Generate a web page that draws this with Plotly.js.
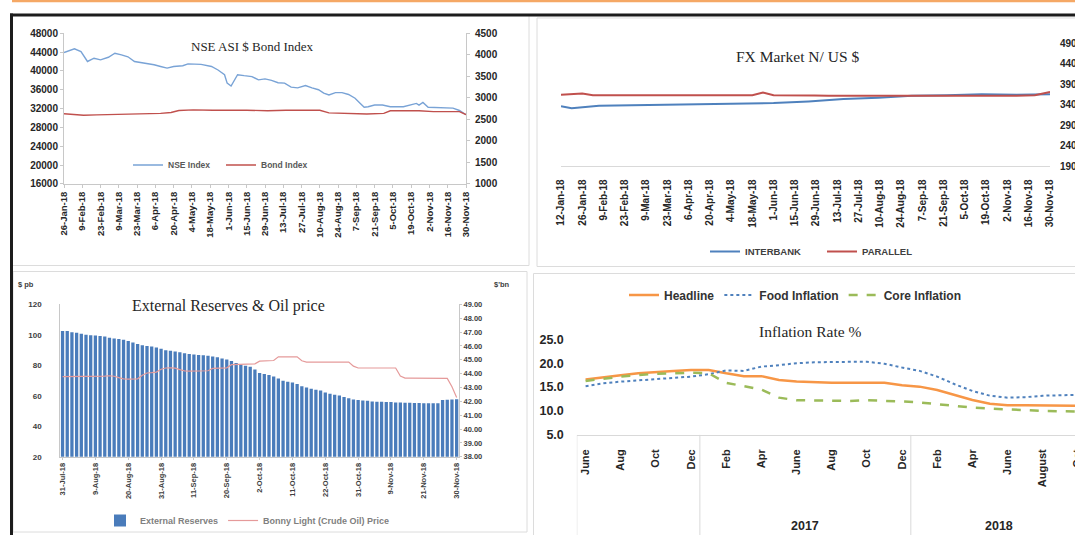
<!DOCTYPE html>
<html><head><meta charset="utf-8">
<script src="https://cdn.plot.ly/plotly-3.0.1.min.js"></script>
<style>html,body{margin:0;padding:0;overflow:hidden;background:#fff;width:1075px;height:535px}#chart{width:1130px;height:535px}</style>
</head><body><div id="chart"></div>
<script>
// ---------- Chart 1: NSE ASI & Bond Index ----------
const nseTickLabels = ['26-Jan-18','9-Feb-18','23-Feb-18','9-Mar-18','23-Mar-18','6-Apr-18','20-Apr-18','4-May-18','18-May-18','1-Jun-18','15-Jun-18','29-Jun-18','13-Jul-18','27-Jul-18','10-Aug-18','24-Aug-18','7-Sep-18','21-Sep-18','5-Oct-18','19-Oct-18','2-Nov-18','16-Nov-18','30-Nov-18'];
const nseDates = ['2018-01-26','2018-02-03','2018-02-08','2018-02-13','2018-02-18','2018-02-23','2018-03-01','2018-03-06','2018-03-11','2018-03-16','2018-03-21','2018-03-29','2018-04-05','2018-04-10','2018-04-15','2018-04-20','2018-04-27','2018-05-01','2018-05-11','2018-05-19','2018-05-24','2018-05-29','2018-05-31','2018-06-03','2018-06-05','2018-06-08','2018-06-13','2018-06-19','2018-06-24','2018-06-29','2018-07-04','2018-07-09','2018-07-14','2018-07-19','2018-07-24','2018-07-30','2018-08-04','2018-08-09','2018-08-13','2018-08-17','2018-08-22','2018-08-27','2018-09-01','2018-09-06','2018-09-10','2018-09-13','2018-09-16','2018-09-21','2018-09-27','2018-10-03','2018-10-13','2018-10-18','2018-10-23','2018-10-25','2018-10-28','2018-11-01','2018-11-07','2018-11-15','2018-11-20','2018-11-25','2018-11-30'];
const nseIndex = [43900,44700,44100,42000,42700,42350,42900,43760,43400,43000,42000,41650,41300,40950,40600,40950,41100,41500,41400,40950,40200,39200,37400,36800,37800,39200,39000,38800,38100,38300,38000,37500,37400,36550,36400,36900,36400,36000,35300,34900,35400,35400,35000,34200,33100,32300,32400,32750,32750,32400,32400,32750,33100,32750,33300,32300,32250,32100,32100,31600,30700];
const bondDates = ['2018-01-26','2018-02-10','2018-02-20','2018-03-15','2018-04-10','2018-04-18','2018-04-24','2018-05-05','2018-05-20','2018-06-15','2018-07-01','2018-07-15','2018-08-10','2018-08-17','2018-09-01','2018-09-15','2018-09-28','2018-10-03','2018-10-25','2018-11-05','2018-11-25','2018-11-30'];
const bondIndex = [2630,2595,2605,2615,2640,2660,2705,2720,2710,2712,2700,2710,2712,2650,2630,2625,2640,2700,2700,2680,2680,2610];

// ---------- Chart 2: FX Market ----------
const fxTickLabels = ['12-Jan-18','26-Jan-18','9-Feb-18','23-Feb-18','9-Mar-18','23-Mar-18','6-Apr-18','20-Apr-18','4-May-18','18-May-18','1-Jun-18','15-Jun-18','29-Jun-18','13-Jul-18','27-Jul-18','10-Aug-18','24-Aug-18','7-Sep-18','21-Sep-18','5-Oct-18','19-Oct-18','2-Nov-18','16-Nov-18','30-Nov-18'];
const interbankDates = ['2018-01-12','2018-01-19','2018-02-06','2018-03-08','2018-04-16','2018-05-09','2018-06-01','2018-06-24','2018-07-17','2018-08-09','2018-08-31','2018-09-23','2018-10-16','2018-11-08','2018-11-30'];
const interbankRate = [336.4,331.6,338.0,339.6,341.2,342.0,344.4,348.4,354.0,357.2,362.0,363.6,366.0,364.4,366.0];
const parallelDates = ['2018-01-12','2018-01-26','2018-02-02','2018-05-18','2018-05-25','2018-06-01','2018-06-28','2018-07-07','2018-11-08','2018-11-20','2018-11-30'];
const parallelRate = [364.4,367.6,363.6,363.6,370.0,363.6,362.8,362.0,362.0,363.6,371.6];

// ---------- Chart 3: External Reserves & Oil price ----------
const reserveTickLabels = ['31-Jul-18','9-Aug-18','20-Aug-18','31-Aug-18','11-Sep-18','20-Sep-18','2-Oct-18','11-Oct-18','22-Oct-18','31-Oct-18','9-Nov-18','21-Nov-18','30-Nov-18'];
const externalReserves = [47.08,47.08,47.00,46.95,46.88,46.82,46.78,46.75,46.72,46.68,
  46.60,46.55,46.50,46.45,46.36,46.25,46.15,46.05,46.00,45.96,
  45.90,45.80,45.70,45.65,45.60,45.55,45.48,45.42,45.38,45.35,
  45.33,45.30,45.25,45.18,45.10,45.02,44.92,44.78,44.65,44.58,
  44.50,44.30,44.05,43.98,43.90,43.80,43.65,43.50,43.42,43.36,
  43.25,43.10,43.00,42.92,42.85,42.78,42.65,42.55,42.48,42.42,
  42.32,42.22,42.14,42.10,42.07,42.04,42.00,41.98,41.97,41.96,
  41.95,41.93,41.92,41.91,41.90,41.89,41.88,41.87,41.86,41.86,
  41.87,42.10,42.12,42.14,42.16];
const bonnyLightPrice = [72.6,72.6,72.7,72.6,72.6,72.7,72.7,72.6,72.8,73.0,73.2,72.9,
  72.0,71.2,71.0,71.0,71.2,
  73.5,75.0,75.2,75.6,
  77.5,78.3,78.4,78.2,
  77.2,76.4,76.3,76.3,76.4,76.3,76.5,
  78.0,78.3,78.4,78.4,
  80.5,80.7,80.7,80.7,80.8,81.0,
  82.8,82.9,83.0,83.2,
  85.6,85.7,85.7,85.7,85.6,
  83.0,82.2,82.2,82.2,82.2,82.2,82.2,82.2,82.2,82.2,82.2,
  79.5,78.3,78.3,78.3,78.3,78.3,78.3,78.3,78.3,78.3,
  73.0,71.7,71.7,71.7,71.7,71.7,71.7,71.7,71.7,71.7,71.5,
  66.0,59.0];

// ---------- Chart 4: Inflation ----------
const inflationMonths = ['2016-06','2016-07','2016-08','2016-09','2016-10','2016-11','2016-12','2017-01','2017-02','2017-03','2017-04','2017-05','2017-06','2017-07','2017-08','2017-09','2017-10','2017-11','2017-12','2018-01','2018-02','2018-03','2018-04','2018-05','2018-06','2018-07','2018-08','2018-09','2018-10'];
const inflationTickLabels = ['June','Aug','Oct','Dec','Feb','Apr','June','Aug','Oct','Dec','Feb','Apr','June','August','Oct'];
const yearLabels = ['2017','2018'];
const headline = [16.6,17.1,17.5,17.9,18.2,18.4,18.6,18.6,17.9,17.3,17.3,16.5,16.2,16.0,15.9,15.9,15.9,15.9,15.4,15.1,14.4,13.3,12.3,11.5,11.2,11.2,11.2,11.1,11.1];
const foodInflation = [15.2,15.8,16.15,16.4,16.6,16.9,17.2,17.7,18.5,18.4,19.3,19.6,20.0,20.2,20.3,20.3,20.3,19.9,19.1,18.4,17.2,15.6,14.2,13.2,12.8,12.9,13.2,13.3,13.4];
const coreInflation = [16.3,16.8,17.2,17.5,17.8,17.9,18.0,17.9,15.9,15.2,14.5,12.8,12.25,12.2,12.1,12.1,12.25,12.2,12.0,11.8,11.4,11.1,10.7,10.5,10.4,10.2,10.0,9.9,9.9];

// ---------- helpers ----------
const W = 1130, H = 535;
const fx = p => p / W, fy = p => 1 - p / H;
const MON = {Jan:'01',Feb:'02',Mar:'03',Apr:'04',May:'05',Jun:'06',Jul:'07',Aug:'08',Sep:'09',Oct:'10',Nov:'11',Dec:'12'};
const toISO = s => { const [d,m,y] = s.split('-'); return '20' + y + '-' + MON[m] + '-' + d.padStart(2,'0'); };
const SANS = 'Liberation Sans, Arial, sans-serif';
const SERIF = 'Liberation Serif, Times New Roman, serif';
const tf = (size, color) => ({family: SANS, size: size, color: color || '#262626', weight: 'bold'});

const resIdx = externalReserves.map((_, i) => i);
const resTickVals = reserveTickLabels.map((_, i) => i * 7);
const infIdx = inflationMonths.map((_, i) => i);
const infTickVals = inflationTickLabels.map((_, i) => i * 2);
const yearCenters = yearLabels.map(yr => { const ids = infIdx.filter(i => inflationMonths[i].startsWith(yr)); return (ids[0] + ids[ids.length-1]) / 2; });
const dividers = [-0.5].concat(infIdx.filter(i => i > 0 && inflationMonths[i].slice(0,4) !== inflationMonths[i-1].slice(0,4)).map(i => i - 0.5));

const traces = [
  {x: nseDates, y: nseIndex, name: 'NSE Index', type: 'scatter', mode: 'lines', xaxis: 'x', yaxis: 'y', line: {color: '#79a3d6', width: 1.4}, legend: 'legend'},
  {x: bondDates, y: bondIndex, name: 'Bond Index', type: 'scatter', mode: 'lines', xaxis: 'x', yaxis: 'y2', line: {color: '#c0504d', width: 1.4}, legend: 'legend'},
  {x: interbankDates, y: interbankRate, name: 'INTERBANK', type: 'scatter', mode: 'lines', xaxis: 'x2', yaxis: 'y3', line: {color: '#4f81bd', width: 2}, legend: 'legend2'},
  {x: parallelDates, y: parallelRate, name: 'PARALLEL', type: 'scatter', mode: 'lines', xaxis: 'x2', yaxis: 'y3', line: {color: '#c0504d', width: 2}, legend: 'legend2'},
  {x: resIdx, y: externalReserves, name: 'External Reserves', type: 'bar', xaxis: 'x3', yaxis: 'y4', marker: {color: '#4a7cbb'}, legend: 'legend3'},
  {x: resIdx, y: bonnyLightPrice, name: 'Bonny Light (Crude Oil) Price', type: 'scatter', mode: 'lines', xaxis: 'x3', yaxis: 'y5', line: {color: '#e59a9a', width: 1.2}, legend: 'legend3'},
  {x: infIdx, y: headline, name: 'Headline', type: 'scatter', mode: 'lines', xaxis: 'x4', yaxis: 'y6', line: {color: '#f79646', width: 2.5}, legend: 'legend4'},
  {x: infIdx, y: foodInflation, name: 'Food Inflation', type: 'scatter', mode: 'lines', xaxis: 'x4', yaxis: 'y6', line: {color: '#4f81bd', width: 2, dash: 'dot'}, legend: 'legend4'},
  {x: infIdx, y: coreInflation, name: 'Core Inflation', type: 'scatter', mode: 'lines', xaxis: 'x4', yaxis: 'y6', line: {color: '#9bbb59', width: 2.5, dash: 'dash'}, legend: 'legend4'}
];

const gl = '#c8c8c8';
const layout = {
  width: W, height: H, margin: {l:0, r:0, t:0, b:0}, paper_bgcolor: '#fff', plot_bgcolor: 'rgba(0,0,0,0)',
  showlegend: true, hovermode: false, bargap: 0.3,
  // chart 1
  xaxis: {type: 'date', domain: [fx(64), fx(466)], anchor: 'y', range: ['2018-01-26','2018-11-30'], tickvals: nseTickLabels.map(toISO), ticktext: nseTickLabels, tickangle: -90, tickfont: tf(9.5), showline: true, linecolor: gl, ticks: 'outside', ticklen: 3, tickcolor: gl, showgrid: false, zeroline: false},
  yaxis: {domain: [fy(184.3), fy(33.3)], anchor: 'x', range: [16000, 48000], dtick: 4000, tickformat: 'd', tickfont: tf(10), showline: true, linecolor: gl, ticks: 'outside', ticklen: 3, tickcolor: gl, showgrid: false, zeroline: false},
  yaxis2: {overlaying: 'y', side: 'right', anchor: 'x', range: [1000, 4500], dtick: 500, tickformat: 'd', tickfont: tf(10), showline: true, linecolor: gl, ticks: 'outside', ticklen: 3, tickcolor: gl, showgrid: false, zeroline: false, ticklabelstandoff: 3},
  // chart 2
  xaxis2: {type: 'date', domain: [fx(561), fx(1050)], anchor: 'y3', range: ['2018-01-12','2018-11-30'], tickvals: fxTickLabels.map(toISO), ticktext: fxTickLabels, tickangle: -90, tickfont: tf(10), showline: true, linecolor: '#d9d9d9', ticks: '', showgrid: false, zeroline: false, ticklabelstandoff: 8},
  yaxis3: {domain: [fy(166.8), fy(43.3)], anchor: 'free', position: fx(1059), side: 'right', range: [190, 490], tick0: 190, dtick: 50, tickfont: tf(10), showline: false, ticks: '', showgrid: false, zeroline: false},
  // chart 3
  xaxis3: {domain: [fx(60.2), fx(459)], anchor: 'y4', range: [-0.5, externalReserves.length - 0.5], tickvals: resTickVals, ticktext: reserveTickLabels, tickangle: -90, tickfont: tf(7.5, '#404040'), showline: true, linecolor: gl, ticks: 'outside', ticklen: 2, tickcolor: gl, showgrid: false, zeroline: false},
  yaxis4: {domain: [fy(457.7), fy(305)], anchor: 'x3', side: 'right', range: [38, 49], dtick: 1, tickformat: '.2f', tickfont: tf(7.5, '#404040'), showline: true, linecolor: gl, ticks: 'outside', ticklen: 2, tickcolor: gl, showgrid: false, zeroline: false},
  yaxis5: {overlaying: 'y4', anchor: 'x3', side: 'left', range: [20, 120], dtick: 20, tickfont: tf(8, '#404040'), showline: true, linecolor: gl, ticks: '', showgrid: false, zeroline: false, ticklabelstandoff: 16},
  // chart 4
  xaxis4: {domain: [fx(576.8), fx(576.8 + 30 * 17.58)], anchor: 'y6', range: [-0.5, 29.5], tickvals: infTickVals, ticktext: inflationTickLabels, tickangle: -90, tickfont: tf(11), showline: true, linecolor: '#d9d9d9', ticks: '', showgrid: false, zeroline: false, ticklabelstandoff: 9},
  yaxis6: {domain: [fy(435.7), fy(340)], anchor: 'x4', range: [5, 25], dtick: 5, tickformat: '.1f', tickfont: tf(12.5), showline: false, ticks: '', showgrid: false, zeroline: false, ticklabelstandoff: 12},
  // legends
  legend: {x: fx(128), y: fy(165), xanchor: 'left', yanchor: 'middle', orientation: 'h', bgcolor: 'rgba(0,0,0,0)', font: tf(8.5, '#595959'), entrywidth: 48},
  legend2: {x: fx(705), y: fy(251.5), xanchor: 'left', yanchor: 'middle', orientation: 'h', bgcolor: 'rgba(0,0,0,0)', font: tf(9.5, '#404040'), entrywidth: 72},
  legend3: {x: fx(100), y: fy(521.7), xanchor: 'left', yanchor: 'middle', orientation: 'h', bgcolor: 'rgba(0,0,0,0)', font: tf(9, '#7f7f7f')},
  legend4: {x: fx(624), y: fy(295), xanchor: 'left', yanchor: 'middle', orientation: 'h', bgcolor: 'rgba(0,0,0,0)', font: tf(12, '#333333')},
  annotations: [
    {text: 'NSE ASI $ Bond Index', x: fx(252), y: fy(46.7), xref: 'paper', yref: 'paper', showarrow: false, xanchor: 'center', yanchor: 'middle', font: {family: SERIF, size: 13, color: '#262626'}},
    {text: 'FX Market N/ US $', x: fx(797), y: fy(57), xref: 'paper', yref: 'paper', showarrow: false, xanchor: 'center', yanchor: 'middle', font: {family: SERIF, size: 15.5, color: '#262626'}},
    {text: 'External Reserves &amp; Oil price', x: fx(228), y: fy(306.7), xref: 'paper', yref: 'paper', showarrow: false, xanchor: 'center', yanchor: 'middle', font: {family: SERIF, size: 16, color: '#262626'}},
    {text: 'Inflation Rate %', x: fx(810), y: fy(331.7), xref: 'paper', yref: 'paper', showarrow: false, xanchor: 'center', yanchor: 'middle', font: {family: SERIF, size: 15.5, color: '#262626'}},
    {text: '$ pb', x: fx(16), y: fy(285), xref: 'paper', yref: 'paper', showarrow: false, xanchor: 'left', yanchor: 'middle', font: tf(7.5, '#404040')},
    {text: "$'bn", x: fx(512), y: fy(285), xref: 'paper', yref: 'paper', showarrow: false, xanchor: 'right', yanchor: 'middle', font: tf(7.5, '#404040')}
  ].concat(yearLabels.map((yr, k) => ({text: yr, x: yearCenters[k], y: fy(527), xref: 'x4', yref: 'paper', showarrow: false, xanchor: 'center', yanchor: 'middle', font: tf(12.5)}))),
  shapes: [
    {type: 'line', xref: 'paper', yref: 'paper', x0: fx(12), x1: fx(W), y0: fy(1), y1: fy(1), line: {color: '#f5a865', width: 2.5}},
    {type: 'rect', xref: 'paper', yref: 'paper', x0: fx(537), x1: fx(W + 10), y0: fy(267), y1: fy(18), line: {color: '#dcdcdc', width: 1}},
    {type: 'rect', xref: 'paper', yref: 'paper', x0: fx(533.5), x1: fx(W + 10), y0: fy(545), y1: fy(274), line: {color: '#dcdcdc', width: 1}},
    {type: 'rect', xref: 'paper', yref: 'paper', x0: fx(13), x1: fx(527), y0: fy(533), y1: fy(272), line: {color: '#dcdcdc', width: 1}},
    {type: 'line', xref: 'paper', yref: 'paper', x0: fx(529), x1: fx(529), y0: fy(266), y1: fy(16), line: {color: '#dcdcdc', width: 1}},
    {type: 'line', xref: 'paper', yref: 'paper', x0: fx(13), x1: fx(529), y0: fy(266), y1: fy(266), line: {color: '#dcdcdc', width: 1}},
    {type: 'line', xref: 'paper', yref: 'paper', x0: fx(10), x1: fx(W), y0: fy(15), y1: fy(15), line: {color: '#1c1c1c', width: 3}},
    {type: 'line', xref: 'paper', yref: 'paper', x0: fx(11.5), x1: fx(11.5), y0: fy(13.5), y1: fy(540), line: {color: '#1c1c1c', width: 3}}
  ].concat(dividers.map(d => ({type: 'line', xref: 'x4', yref: 'paper', x0: d, x1: d, y0: fy(435.7), y1: fy(540), line: {color: '#d9d9d9', width: 1}})))
};

Plotly.newPlot('chart', traces, layout, {displayModeBar: false, staticPlot: true});
</script></body></html>
